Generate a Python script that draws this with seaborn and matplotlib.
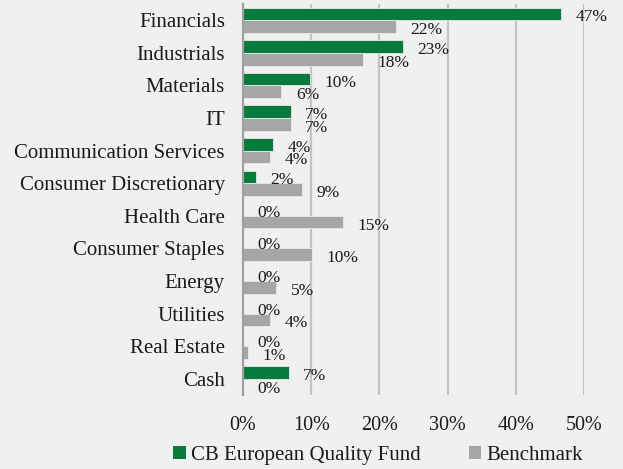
import matplotlib
matplotlib.use("Agg")
import matplotlib.pyplot as plt
import seaborn as sns
import pandas as pd
import numpy as np
from matplotlib.patches import Patch

categories = ["Financials", "Industrials", "Materials", "IT", "Communication Services",
              "Consumer Discretionary", "Health Care", "Consumer Staples", "Energy",
              "Utilities", "Real Estate", "Cash"]
fund = [46.7, 23.4, 9.8, 7.0, 4.4, 1.9, 0.0, 0.0, 0.0, 0.0, 0.0, 6.7]
benchmark = [22.4, 17.6, 5.6, 7.0, 4.0, 8.6, 14.6, 10.1, 4.9, 4.0, 0.7, 0.0]
series_names = ["CB European Quality Fund", "Benchmark"]
x_ticks = [0, 10, 20, 30, 40, 50]

GREEN = "#077a3d"
GREY = "#a6a6a6"
BG = "#f0f0f0"
TEXT = "#1a1a1a"

sns.set_theme(style="white")
plt.rcParams["font.family"] = ["Liberation Serif", "DejaVu Serif"]

df = pd.DataFrame({
    "Sector": categories * 2,
    "Value": fund + benchmark,
    "Series": [series_names[0]] * len(categories) + [series_names[1]] * len(categories),
})

fig = plt.figure(figsize=(6.23, 4.69), dpi=100, facecolor=BG)
ax = fig.add_axes([243 / 623, 1 - 395 / 469, (584 - 243) / 623, (395 - 4) / 469])
ax.set_facecolor(BG)

sns.barplot(data=df, y="Sector", x="Value", hue="Series", orient="h",
            palette=[GREEN, GREY], saturation=1, width=0.78, ax=ax, legend=False,
            edgecolor="#e8e8e8", linewidth=0.6, zorder=3)

ax.set_xlim(0, 50)
ax.set_ylim(len(categories) - 0.5, -0.5)
ax.set_xticks(x_ticks)
ax.set_xticklabels([f"{t}%" for t in x_ticks], fontsize=14.5, color=TEXT)
ax.tick_params(axis="x", length=0, pad=15)
ax.set_xlabel("")
ax.set_ylabel("")

ax.set_yticks(range(len(categories)))
ax.set_yticklabels(categories, fontsize=15, color=TEXT)
ax.tick_params(axis="y", which="major", length=0, pad=13)
ax.set_yticks(np.arange(-0.5, len(categories), 1.0), minor=True)
ax.tick_params(axis="y", which="minor", length=4, width=1.4, color="#a0a0a0", direction="out")

ax.grid(axis="x", color="#c4c4c4", linewidth=1.6, zorder=0)
ax.grid(axis="y", visible=False)
for s in ["top", "right", "bottom"]:
    ax.spines[s].set_visible(False)
ax.spines["left"].set_color("#a0a0a0")
ax.spines["left"].set_linewidth(1.6)
ax.spines["left"].set_zorder(4)

for cont, vals in zip(ax.containers, [fund, benchmark]):
    for patch, v in zip(cont.patches, vals):
        yc = patch.get_y() + patch.get_height() / 2
        ax.annotate(f"{v:.0f}%", xy=(patch.get_width(), yc), xytext=(10.5, -2.5),
                    textcoords="offset points", ha="left", va="center",
                    fontsize=12.5, color=TEXT, annotation_clip=False)

handles = [Patch(facecolor=GREEN, edgecolor="none"), Patch(facecolor=GREY, edgecolor="none")]
fig.legend(handles, series_names, loc="center", bbox_to_anchor=(378 / 623, 1 - 455 / 469),
           ncol=2, frameon=False, fontsize=15, handlelength=0.6, handleheight=0.6,
           handletextpad=0.25, columnspacing=2.3, labelcolor=TEXT)

fig.savefig("out.png", dpi=100, facecolor=BG)
